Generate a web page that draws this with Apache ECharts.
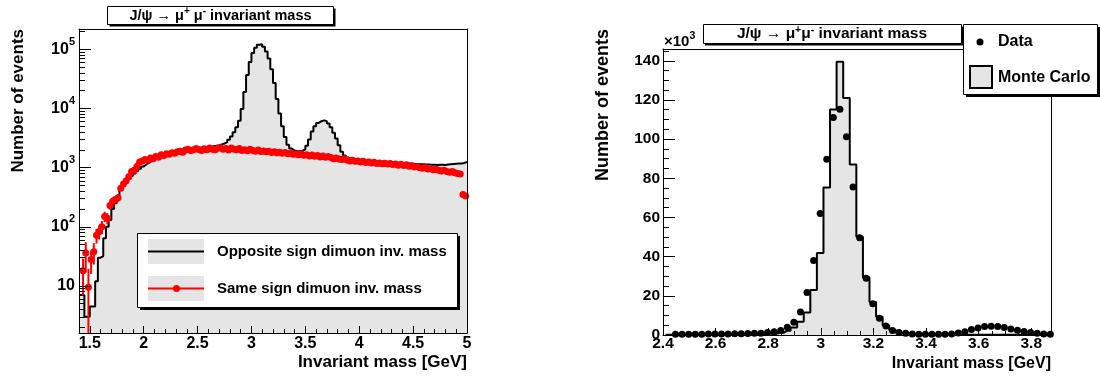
<!DOCTYPE html>
<html>
<head>
<meta charset="utf-8">
<script src="https://cdn.jsdelivr.net/npm/echarts@6/dist/echarts.min.js"></script>
<style>
html,body{margin:0;padding:0;background:#fff;}
#chart{width:1100px;height:378px;}
</style>
</head>
<body>
<div id="chart"></div>
<script>
// ================= LEFT PANEL (log scale) =================
// 144 bins of 0.025 GeV from 1.4 to 5.0 GeV
const leftBinLow = 1.4;
const leftBinWidth = 0.025;

// Opposite sign dimuon invariant mass (histogram)
const oppositeSignCounts = [
  7, 7, 3, 3, 4.5, 4.5, 12, 30, 32, 64,
  100, 130, 200, 250, 325, 420, 500, 580, 640, 720,
  800, 880, 960, 1050, 1130, 1210, 1290, 1370, 1440, 1510,
  1580, 1650, 1710, 1760, 1810, 1850, 1890, 1930, 1970, 2000,
  2040, 2070, 2100, 2130, 2160, 2190, 2220, 2240, 2270, 2300,
  2340, 2390, 2460, 2560, 2700, 2950, 3350, 3950, 4800, 6200,
  9800, 19000, 37000, 61000, 87000, 107000, 120000, 122000, 111000, 92000,
  70000, 46000, 27000, 14500, 8200, 5000, 3300, 2450, 2100, 1950,
  1900, 1900, 1930, 2030, 2350, 3000, 4100, 5000, 5700, 6100,
  6300, 6100, 5600, 4800, 3900, 3100, 2400, 1850, 1600, 1480,
  1420, 1390, 1370, 1350, 1340, 1330, 1310, 1300, 1290, 1270,
  1260, 1250, 1240, 1230, 1220, 1210, 1200, 1200, 1190, 1190,
  1180, 1170, 1170, 1160, 1150, 1150, 1140, 1140, 1130, 1130,
  1120, 1120, 1110, 1120, 1120, 1110, 1130, 1140, 1150, 1160,
  1170, 1180, 1200, 1250
];

// Same sign dimuon invariant mass (points)
const sameSignCounts = [
  null, 18, 36, 9.5, 28, 38, 72, 83, 100, 150,
  140, 230, 270, 290, 310, 450, 530, 600, 700, 860,
  900, 1050, 1250, 1300, 1370, 1330, 1450, 1420, 1550, 1500,
  1650, 1600, 1720, 1680, 1780, 1750, 1850, 1900, 1820, 1980,
  2050, 1950, 2000, 2100, 2020, 1950, 2080, 2000, 2150, 2050,
  2000, 2120, 2180, 2050, 2100, 1980, 2150, 2050, 2000, 2100,
  1950, 2000, 1930, 2050, 1950, 1900, 1980, 1880, 1920, 1850,
  1900, 1800, 1860, 1780, 1820, 1750, 1800, 1720, 1760, 1680,
  1700, 1650, 1720, 1620, 1650, 1580, 1630, 1560, 1600, 1520,
  1580, 1500, 1550, 1480, 1420, 1460, 1400, 1380, 1420, 1350,
  1300, 1340, 1280, 1300, 1250, 1280, 1220, 1250, 1200, 1230,
  1180, 1200, 1160, 1190, 1150, 1170, 1130, 1150, 1100, 1140,
  1090, 1120, 1060, 1080, 1030, 1050, 1000, 980, 1010, 950,
  960, 920, 940, 900, 880, 900, 860, 840, 860, 820,
  800, 780, 350, 330
];
// vertical error bars of the first bins (larger bins have errors hidden by markers)
const sameSignErrors = [0, 11, 19, 10, 12, 15, 20, 22, 25, 30, 30, 35, 40, 40, 45, 50, 55, 60, 65, 70, 70];

const leftXMin = 1.4, leftXMax = 5.0;
const leftYMin = 1.6, leftYMax = 221000;
const leftXTickValues = [1.5, 2, 2.5, 3, 3.5, 4, 4.5, 5];
const leftXMinorTicks = [1.4, 1.5, 1.6, 1.7, 1.8, 1.9, 2.0, 2.1, 2.2, 2.3, 2.4, 2.5, 2.6, 2.7, 2.8, 2.9,
  3.0, 3.1, 3.2, 3.3, 3.4, 3.5, 3.6, 3.7, 3.8, 3.9, 4.0, 4.1, 4.2, 4.3, 4.4, 4.5, 4.6, 4.7, 4.8, 4.9, 5.0];
const leftYTickValues = [10, 100, 1000, 10000, 100000];
const leftYMinorTicks = [2, 3, 4, 5, 6, 7, 8, 9,
  20, 30, 40, 50, 60, 70, 80, 90,
  200, 300, 400, 500, 600, 700, 800, 900,
  2000, 3000, 4000, 5000, 6000, 7000, 8000, 9000,
  20000, 30000, 40000, 50000, 60000, 70000, 80000, 90000,
  200000];

// ================= RIGHT PANEL (linear, x10^3) =================
// 59 bins of 0.025 GeV starting at 2.41 GeV
const rightBinLow = 2.41;
const rightBinWidth = 0.025;

// Monte Carlo histogram, in thousands of events
const monteCarloK = [
  0.1, 0.1, 0.1, 0.1, 0.1, 0.1, 0.15, 0.15, 0.15, 0.2,
  0.2, 0.25, 0.3, 0.35, 0.45, 0.6, 0.8, 1.2, 2.2, 3.8,
  6.8, 11.5, 23.0, 41.8, 75.3, 115.1, 139.5, 121.0, 87.0, 50.2,
  29.3, 16.8, 9.3, 4.8, 2.5, 1.2, 0.6, 0.35, 0.25, 0.2,
  0.2, 0.15, 0.15, 0.15, 0.15, 0.15, 0.15, 0.15, 0.15, 0.15,
  0.15, 0.15, 0.15, 0.1, 0.1, 0.1, 0.1, 0.1, 0.1
];
// Data points, in thousands of events
const dataK = [
  null, 0.35, 0.35, 0.35, 0.4, 0.4, 0.45, 0.5, 0.5, 0.55,
  0.6, 0.7, 0.8, 0.85, 0.9, 1.3, 1.7, 2.3, 3.9, 6.5,
  11.7, 21.7, 38.0, 62.0, 89.7, 111.0, 115.3, 101.2, 75.5, 49.7,
  29.0, 16.0, 8.5, 4.6, 2.3, 1.3, 0.85, 0.5, 0.4, 0.35,
  0.35, 0.35, 0.4, 0.5, 1.0, 1.7, 2.8, 3.6, 4.3, 4.5,
  4.3, 3.8, 3.0, 2.4, 1.8, 1.3, 0.9, 0.5, 0.4
];

const rightXMin = 2.4, rightXMax = 3.875;
const rightYMin = 0, rightYMax = 146;
const rightXTickValues = [2.4, 2.6, 2.8, 3, 3.2, 3.4, 3.6, 3.8];
const rightXMinorTicks = [2.4, 2.45, 2.5, 2.55, 2.6, 2.65, 2.7, 2.75, 2.8, 2.85, 2.9, 2.95,
  3.0, 3.05, 3.1, 3.15, 3.2, 3.25, 3.3, 3.35, 3.4, 3.45, 3.5, 3.55, 3.6, 3.65, 3.7, 3.75, 3.8, 3.85];
const rightYTickValues = [0, 20, 40, 60, 80, 100, 120, 140];
const rightYMinorTicks = [0, 5, 10, 15, 20, 25, 30, 35, 40, 45, 50, 55, 60, 65, 70, 75,
  80, 85, 90, 95, 100, 105, 110, 115, 120, 125, 130, 135, 140, 145];

// ================= helpers =================
const FONT = '"Liberation Sans", Arial, Helvetica, sans-serif';
const FILL = '#e5e5e5';

function histogramSteps(low, width, counts) {
  const pts = [[low, counts[0]]];
  counts.forEach((v, i) => pts.push([low + (i + 0.5) * width, v]));
  pts.push([low + counts.length * width, counts[counts.length - 1]]);
  return pts;
}
function binPoints(low, width, counts, errors) {
  const out = [];
  counts.forEach((v, i) => {
    if (v == null) return;
    const p = [low + (i + 0.5) * width, v];
    if (errors) p.push(errors[i] || 0);
    out.push(p);
  });
  return out;
}
function labelStyle(size, margin) {
  return { color: '#000', fontFamily: FONT, fontWeight: 'bold', fontSize: size, margin: margin };
}
function frameAxis(grid, type, min, max, position, extra) {
  return Object.assign({
    gridIndex: grid, type: type, min: min, max: max, position: position, z: 10,
    axisLine: { show: true, onZero: false, lineStyle: { color: '#000', width: 1 } },
    axisTick: { show: false }, axisLabel: { show: false }, splitLine: { show: false }
  }, extra || {});
}
function tickAxis(grid, type, min, max, position, len, values, labels, extra) {
  return Object.assign({
    gridIndex: grid, type: type, min: min, max: max, position: position, z: 10,
    axisLine: { show: labels != null, onZero: false, lineStyle: { color: '#000', width: 1 } },
    axisTick: { show: true, inside: true, length: len, customValues: values, lineStyle: { color: '#000', width: 1 } },
    axisLabel: labels ? Object.assign({ show: true, customValues: values }, labels) : { show: false },
    splitLine: { show: false }
  }, extra || {});
}

const supRich = {
  b: { fontFamily: FONT, fontWeight: 'bold', fontSize: 16, color: '#000', lineHeight: 26 },
  s: { fontFamily: FONT, fontWeight: 'bold', fontSize: 11, color: '#000', lineHeight: 11, verticalAlign: 'top' }
};

const chart = echarts.init(document.getElementById('chart'), null, { renderer: 'canvas' });

const option = {
  animation: false,
  backgroundColor: '#fff',
  textStyle: { fontFamily: FONT },
  grid: [
    { left: 79, top: 29, width: 388, height: 304, show: true, backgroundColor: '#fff', borderWidth: 0 },
    { left: 663, top: 49, width: 388, height: 286, show: true, backgroundColor: '#fff', borderWidth: 0 }
  ],
  xAxis: [
    tickAxis(0, 'value', leftXMin, leftXMax, 'bottom', 7, leftXTickValues, Object.assign(labelStyle(16, 3), { formatter: v => String(v) })),
    tickAxis(0, 'value', leftXMin, leftXMax, 'bottom', 4, leftXMinorTicks, null),
    frameAxis(0, 'value', leftXMin, leftXMax, 'top'),
    tickAxis(1, 'value', rightXMin, rightXMax, 'bottom', 7, rightXTickValues, Object.assign(labelStyle(15.5, 1), { formatter: v => String(v) })),
    tickAxis(1, 'value', rightXMin, rightXMax, 'bottom', 4, rightXMinorTicks, null),
    frameAxis(1, 'value', rightXMin, rightXMax, 'top')
  ],
  yAxis: [
    tickAxis(0, 'log', leftYMin, leftYMax, 'left', 12, leftYTickValues, Object.assign(labelStyle(16, 4), {
      formatter: v => { const e = Math.round(Math.log10(v)); return e === 1 ? '{b|10}' : '{b|10}{s|' + e + '}'; },
      rich: supRich
    }), { logBase: 10 }),
    tickAxis(0, 'log', leftYMin, leftYMax, 'left', 6, leftYMinorTicks, null, { logBase: 10 }),
    frameAxis(0, 'log', leftYMin, leftYMax, 'right', { logBase: 10 }),
    tickAxis(1, 'value', rightYMin, rightYMax, 'left', 12, rightYTickValues, Object.assign(labelStyle(15.5, 3), { formatter: v => String(v) })),
    tickAxis(1, 'value', rightYMin, rightYMax, 'left', 6, rightYMinorTicks, null),
    frameAxis(1, 'value', rightYMin, rightYMax, 'right')
  ],
  series: [
    {
      name: 'Opposite sign dimuon inv. mass',
      type: 'line', xAxisIndex: 0, yAxisIndex: 0, step: 'middle', showSymbol: false, z: 2,
      data: histogramSteps(leftBinLow, leftBinWidth, oppositeSignCounts),
      lineStyle: { color: '#000', width: 2 },
      areaStyle: { color: FILL, opacity: 1, origin: 'start' }
    },
    {
      name: 'Same sign error bars',
      type: 'custom', xAxisIndex: 0, yAxisIndex: 0, z: 3,
      data: binPoints(leftBinLow, leftBinWidth, sameSignCounts, sameSignErrors),
      renderItem: function (params, api) {
        const x = api.value(0), y = api.value(1), e = api.value(2);
        const h = leftBinWidth / 2;
        const a = api.coord([x - h, y]), b = api.coord([x + h, y]);
        const children = [{ type: 'line', shape: { x1: a[0], y1: a[1], x2: b[0], y2: b[1] }, style: { stroke: '#ff0000', lineWidth: 2 } }];
        if (e > 0) {
          const t = api.coord([x, y + e]);
          const bt = api.coord([x, Math.max(y - e, leftYMin)]);
          children.push({ type: 'line', shape: { x1: t[0], y1: t[1], x2: bt[0], y2: bt[1] }, style: { stroke: '#ff0000', lineWidth: 2 } });
        }
        return { type: 'group', children: children };
      }
    },
    {
      name: 'Same sign dimuon inv. mass',
      type: 'scatter', xAxisIndex: 0, yAxisIndex: 0, z: 4,
      symbol: 'circle', symbolSize: 7,
      itemStyle: { color: '#ff0000', opacity: 1 },
      data: binPoints(leftBinLow, leftBinWidth, sameSignCounts)
    },
    {
      name: 'Monte Carlo',
      type: 'line', xAxisIndex: 3, yAxisIndex: 3, step: 'middle', showSymbol: false, z: 2,
      data: histogramSteps(rightBinLow, rightBinWidth, monteCarloK),
      lineStyle: { color: '#000', width: 2 },
      areaStyle: { color: FILL, opacity: 1, origin: 'start' }
    },
    {
      name: 'Data',
      type: 'scatter', xAxisIndex: 3, yAxisIndex: 3, z: 4,
      symbol: 'circle', symbolSize: 7,
      itemStyle: { color: '#000', opacity: 1 },
      data: binPoints(rightBinLow, rightBinWidth, dataK)
    }
  ],
  graphic: [
    // ---- left title box
    { type: 'rect', z: 100, shape: { x: 109.5, y: 8.5, width: 226, height: 18 }, style: { fill: '#000' } },
    { type: 'rect', z: 101, shape: { x: 107.5, y: 6.5, width: 226, height: 18 }, style: { fill: '#fff', stroke: '#000', lineWidth: 1 } },
    { type: 'text', z: 102, x: 220.5, y: 15.5, style: {
      text: '{t|J/ψ → μ}{s|+}{t| μ}{s|-}{t| invariant mass}', align: 'center', verticalAlign: 'middle',
      rich: {
        t: { fontFamily: FONT, fontWeight: 'bold', fontSize: 14.5, color: '#000', lineHeight: 18 },
        s: { fontFamily: FONT, fontWeight: 'bold', fontSize: 10, color: '#000', lineHeight: 10, verticalAlign: 'top' }
      } } },
    // ---- right title box
    { type: 'rect', z: 100, shape: { x: 705, y: 26.5, width: 258, height: 19 }, style: { fill: '#000' } },
    { type: 'rect', z: 101, shape: { x: 703.5, y: 24.5, width: 258, height: 19 }, style: { fill: '#fff', stroke: '#000', lineWidth: 1 } },
    { type: 'text', z: 102, x: 832, y: 34, style: {
      text: '{t|J/ψ → μ}{s|+}{t|μ}{s|-}{t| invariant mass}', align: 'center', verticalAlign: 'middle',
      rich: {
        t: { fontFamily: FONT, fontWeight: 'bold', fontSize: 15.5, color: '#000', lineHeight: 19 },
        s: { fontFamily: FONT, fontWeight: 'bold', fontSize: 10.5, color: '#000', lineHeight: 10, verticalAlign: 'top' }
      } } },
    // ---- left legend
    { type: 'rect', z: 100, shape: { x: 140, y: 236, width: 320, height: 74 }, style: { fill: '#000' } },
    { type: 'rect', z: 101, shape: { x: 137.5, y: 233.5, width: 320, height: 74 }, style: { fill: '#fff', stroke: '#000', lineWidth: 1 } },
    { type: 'rect', z: 102, shape: { x: 148, y: 239, width: 56, height: 25 }, style: { fill: FILL } },
    { type: 'line', z: 103, shape: { x1: 148, y1: 251.5, x2: 204, y2: 251.5 }, style: { stroke: '#000', lineWidth: 2 } },
    { type: 'text', z: 103, x: 217, y: 251.5, style: { text: 'Opposite sign dimuon inv. mass', fill: '#000', font: 'bold 15px ' + FONT, align: 'left', verticalAlign: 'middle' } },
    { type: 'rect', z: 102, shape: { x: 148, y: 276, width: 56, height: 25 }, style: { fill: FILL } },
    { type: 'line', z: 103, shape: { x1: 148, y1: 288.5, x2: 204, y2: 288.5 }, style: { stroke: '#ff0000', lineWidth: 2 } },
    { type: 'circle', z: 104, shape: { cx: 176.5, cy: 288.5, r: 3.5 }, style: { fill: '#ff0000' } },
    { type: 'text', z: 103, x: 217, y: 288.5, style: { text: 'Same sign dimuon inv. mass', fill: '#000', font: 'bold 15px ' + FONT, align: 'left', verticalAlign: 'middle' } },
    // ---- right legend
    { type: 'rect', z: 100, shape: { x: 966, y: 27, width: 134, height: 70 }, style: { fill: '#000' } },
    { type: 'rect', z: 101, shape: { x: 963.5, y: 24.5, width: 134, height: 70 }, style: { fill: '#fff', stroke: '#000', lineWidth: 1 } },
    { type: 'circle', z: 102, shape: { cx: 980, cy: 42, r: 3.5 }, style: { fill: '#000' } },
    { type: 'text', z: 102, x: 998, y: 42, style: { text: 'Data', fill: '#000', font: 'bold 16px ' + FONT, align: 'left', verticalAlign: 'middle' } },
    { type: 'rect', z: 102, shape: { x: 970, y: 66, width: 22, height: 22 }, style: { fill: FILL, stroke: '#000', lineWidth: 2 } },
    { type: 'text', z: 102, x: 998, y: 78, style: { text: 'Monte Carlo', fill: '#000', font: 'bold 16px ' + FONT, align: 'left', verticalAlign: 'middle' } },
    // ---- axis titles
    { type: 'text', z: 50, x: 467, y: 362, style: { text: 'Invariant mass [GeV]', fill: '#000', font: 'bold 17px ' + FONT, align: 'right', verticalAlign: 'middle' } },
    { type: 'text', z: 50, x: 18, y: 29, rotation: Math.PI / 2, style: { text: 'Number of events', fill: '#000', font: 'bold 17px ' + FONT, align: 'right', verticalAlign: 'middle' } },
    { type: 'text', z: 50, x: 1051, y: 364, style: { text: 'Invariant mass [GeV]', fill: '#000', font: 'bold 16px ' + FONT, align: 'right', verticalAlign: 'middle' } },
    { type: 'text', z: 50, x: 603, y: 29, rotation: Math.PI / 2, style: { text: 'Number of events', fill: '#000', font: 'bold 18px ' + FONT, align: 'right', verticalAlign: 'middle' } },
    // ---- x10^3 multiplier
    { type: 'text', z: 50, x: 664, y: 42, style: {
      text: '{b|×10}{s|3}', align: 'left', verticalAlign: 'middle',
      rich: {
        b: { fontFamily: FONT, fontWeight: 'bold', fontSize: 15, color: '#000', lineHeight: 22 },
        s: { fontFamily: FONT, fontWeight: 'bold', fontSize: 10.5, color: '#000', lineHeight: 10, verticalAlign: 'top' }
      } } }
  ]
};

chart.setOption(option);
</script>
</body>
</html>
